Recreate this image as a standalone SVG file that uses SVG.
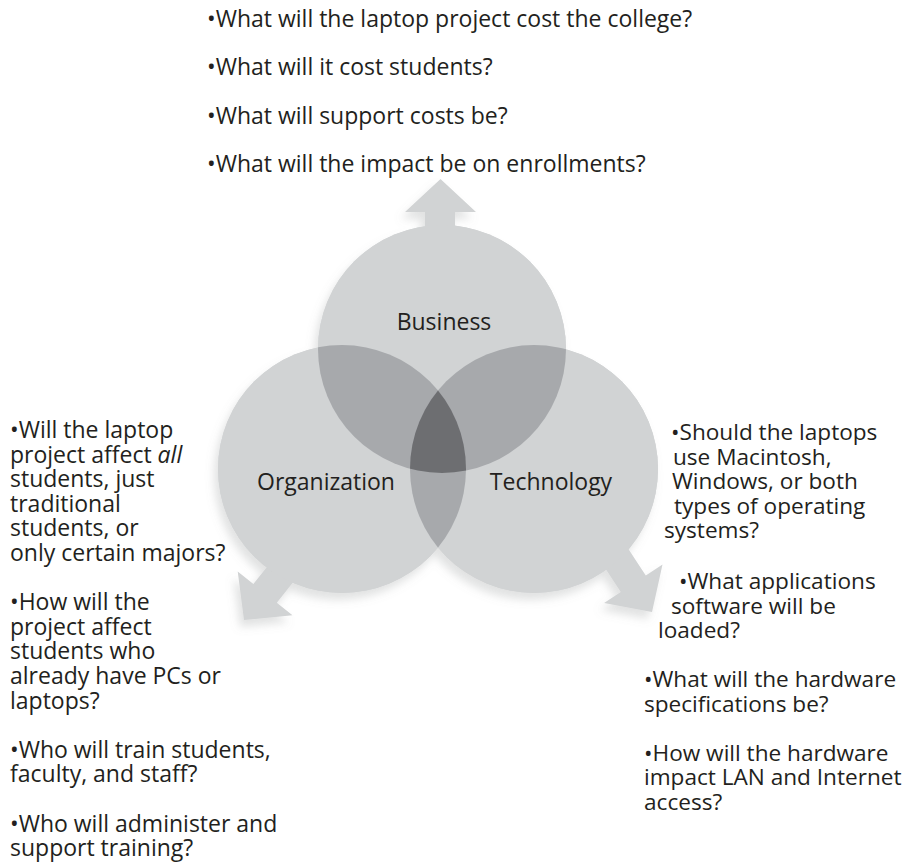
<svg xmlns="http://www.w3.org/2000/svg" width="904" height="863" viewBox="0 0 904 863">
<style>
.t{font-family:"Open Sans","Liberation Sans",sans-serif;font-size:23px;fill:#231f20}
.r{font-size:22.6px}
.lbl{font-family:"Open Sans","Liberation Sans",sans-serif;font-size:23px;fill:#231f20;text-anchor:middle}
.light{fill:#d1d3d4}
.pair{fill:#a7a9ac}
.triple{fill:#6d6e71}
</style>
<defs>
<filter id="sh" x="-20%" y="-20%" width="140%" height="140%">
<feDropShadow dx="-4" dy="7" stdDeviation="4" flood-color="#8a8b8e" flood-opacity="0.25"/>
</filter>
<clipPath id="cB"><circle cx="442" cy="349" r="124"/></clipPath>
<clipPath id="cO"><circle cx="342" cy="469" r="124"/></clipPath>
<clipPath id="cT"><circle cx="534" cy="469" r="124"/></clipPath>
</defs>
<rect width="904" height="863" fill="#ffffff"/>

<g filter="url(#sh)">
<g id="connectors" class="light">
<polygon points="425,280 425,212 405,212 440.5,179 476,212 455,212 455,280"/>
<polygon points="326.6,540.1 276.8,602.7 292.5,615.2 244,620 237.7,571.6 253.4,584.1 303.2,521.5"/>
<polygon points="601.8,508.6 645.8,575.4 662.5,564.4 652,612 604.1,602.9 620.8,591.9 576.8,525.1"/>
</g>
<g class="light">
<circle cx="442" cy="349" r="124"/>
<circle cx="342" cy="469" r="124"/>
<circle cx="534" cy="469" r="124"/>
</g>
</g>

<g id="node-business">
<circle cx="442" cy="349" r="124" class="light"/>
</g>
<g id="node-organization">
<circle cx="342" cy="469" r="124" class="light"/>
</g>
<g id="node-technology">
<circle cx="534" cy="469" r="124" class="light"/>
</g>
<g id="overlaps">
<circle cx="342" cy="469" r="124" class="pair" clip-path="url(#cB)"/>
<circle cx="534" cy="469" r="124" class="pair" clip-path="url(#cB)"/>
<circle cx="534" cy="469" r="124" class="pair" clip-path="url(#cO)"/>
<g clip-path="url(#cB)"><circle cx="534" cy="469" r="124" class="triple" clip-path="url(#cO)"/></g>
</g>
<g id="labels">
<text class="lbl" x="444" y="330">Business</text>
<text class="lbl" x="326" y="490">Organization</text>
<text class="lbl" x="551" y="490">Technology</text>
</g>

<g id="business-questions" class="t">
<text x="207" y="27">•What will the laptop project cost the college?</text>
<text x="207" y="75">•What will it cost students?</text>
<text x="207" y="124">•What will support costs be?</text>
<text x="207" y="172">•What will the impact be on enrollments?</text>
</g>

<g id="organization-questions" class="t">
<text x="10" y="438">•Will the laptop</text>
<text x="10" y="462.6">project affect <tspan font-style="italic">all</tspan></text>
<text x="10" y="487.2">students, just</text>
<text x="10" y="511.8">traditional</text>
<text x="10" y="536.4">students, or</text>
<text x="10" y="561">only certain majors?</text>
<text x="10" y="610.2">•How will the</text>
<text x="10" y="634.8">project affect</text>
<text x="10" y="659.4">students who</text>
<text x="10" y="684">already have PCs or</text>
<text x="10" y="708.6">laptops?</text>
<text x="10" y="757.8">•Who will train students,</text>
<text x="10" y="782.4">faculty, and staff?</text>
<text x="10" y="831.6">•Who will administer and</text>
<text x="10" y="856.2">support training?</text>
</g>

<g id="technology-questions" class="t r">
<text x="671" y="440">•Should the laptops</text>
<text x="673" y="464.6">use Macintosh,</text>
<text x="672" y="489.2">Windows, or both</text>
<text x="674" y="513.8">types of operating</text>
<text x="664" y="538.4">systems?</text>
<text x="679" y="589">•What applications</text>
<text x="671" y="613.6">software will be</text>
<text x="658" y="638.2">loaded?</text>
<text x="644" y="687">•What will the hardware</text>
<text x="644" y="711.6">specifications be?</text>
<text x="644" y="760.8">•How will the hardware</text>
<text x="644" y="785.4">impact LAN and Internet</text>
<text x="644" y="810">access?</text>
</g>
</svg>
